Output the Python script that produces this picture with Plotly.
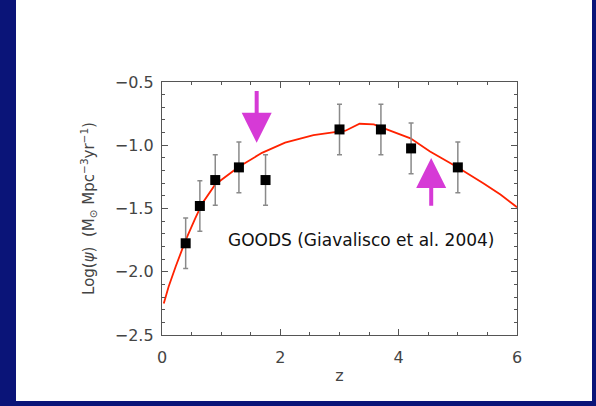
import plotly.graph_objects as go

# GOODS measurements (Giavalisco et al. 2004)
z_obs = [0.40, 0.64, 0.90, 1.30, 1.75, 3.00, 3.70, 4.21, 5.00]
log_psi = [-1.775, -1.48, -1.275, -1.175, -1.275, -0.875, -0.875, -1.025, -1.175]
log_psi_err = [0.2, 0.2, 0.2, 0.2, 0.2, 0.2, 0.2, 0.2, 0.2]

# model curve
z_model = [0.03, 0.11, 0.23, 0.40, 0.56, 0.68, 0.90, 1.30, 1.69, 2.08, 2.56, 3.01,
           3.10, 3.34, 3.58, 3.72, 3.86, 4.03, 4.20, 4.53, 4.98, 5.43, 5.72, 6.00]
log_psi_model = [-2.25, -2.12, -1.96, -1.75, -1.58, -1.46, -1.31, -1.17, -1.06, -0.98,
                 -0.92, -0.89, -0.885, -0.83, -0.835, -0.86, -0.885, -0.918, -0.945,
                 -1.05, -1.17, -1.30, -1.39, -1.49]

# arrows: (z, tip, tail)
arrow_z = [1.6, 4.55]
arrow_tip = [-0.98, -1.10]
arrow_tail = [-0.56, -1.49]

navy = "#0a1478"
magenta = "#d63ad6"
axis_grey = "#555555"
label_grey = "#444444"

fig = go.Figure()

fig.add_trace(go.Scatter(
    x=z_model, y=log_psi_model, mode="lines",
    line=dict(color="#ff2200", width=1.8), hoverinfo="skip"))

fig.add_trace(go.Scatter(
    x=z_obs, y=log_psi, mode="markers",
    marker=dict(symbol="square", size=10, color="black"),
    error_y=dict(type="data", array=log_psi_err, color="#8a8a8a", thickness=1.5, width=2.5)))

for zz, tip, tail in zip(arrow_z, arrow_tip, arrow_tail):
    fig.add_annotation(x=zz, y=tip, ax=zz, ay=tail, axref="x", ayref="y",
                       text="", showarrow=True, arrowhead=2, arrowsize=1.5,
                       arrowwidth=4, arrowcolor=magenta, standoff=0)

fig.add_annotation(x=3.37, y=-1.752, text="GOODS (Giavalisco et al. 2004)",
                   showarrow=False, font=dict(family="DejaVu Sans", size=17, color="#111111"))

# white page inside the navy frame
L, R, T, B = 162, 79, 82, 71
pw, ph = 596 - L - R, 406 - T - B
fig.add_shape(type="rect", xref="paper", yref="paper", layer="below",
              x0=(16 - L) / pw, x1=(592 - L) / pw,
              y0=(406 - B - 401) / ph, y1=(406 - B + 10) / ph,
              fillcolor="white", line=dict(width=0))

axis_common = dict(
    showgrid=False, zeroline=False, showline=True, linecolor=axis_grey, linewidth=1.3,
    mirror="ticks", ticks="inside", ticklen=6, tickwidth=1.2, tickcolor=axis_grey,
    tickfont=dict(family="DejaVu Sans", size=16, color=label_grey),
    automargin=False,
)

fig.update_xaxes(range=[0, 6], dtick=2, tick0=0,
                 minor=dict(dtick=0.5, ticks="inside", ticklen=3, tickcolor=axis_grey),
                 title=dict(text="z", font=dict(family="DejaVu Sans", size=16, color=label_grey),
                            standoff=3),
                 ticklabelstandoff=8, **axis_common)
fig.update_yaxes(range=[-2.5, -0.5], dtick=0.5, tick0=-2.5, tickformat=".1f",
                 minor=dict(dtick=0.1, ticks="inside", ticklen=3, tickcolor=axis_grey),
                 title=dict(text="Log(<i>ψ</i>)  (M<sub>⊙</sub> Mpc<sup>−3</sup>yr<sup>−1</sup>)",
                            font=dict(family="DejaVu Sans", size=15, color=label_grey),
                            standoff=16),
                 ticklabelstandoff=4, **axis_common)

fig.update_layout(
    width=596, height=406,
    margin=dict(l=L, r=R, t=T, b=B, pad=0),
    paper_bgcolor=navy, plot_bgcolor="white",
    showlegend=False,
)

fig.write_html("out.html", config={"displayModeBar": False},
               post_script="document.body.style.margin='0';")
